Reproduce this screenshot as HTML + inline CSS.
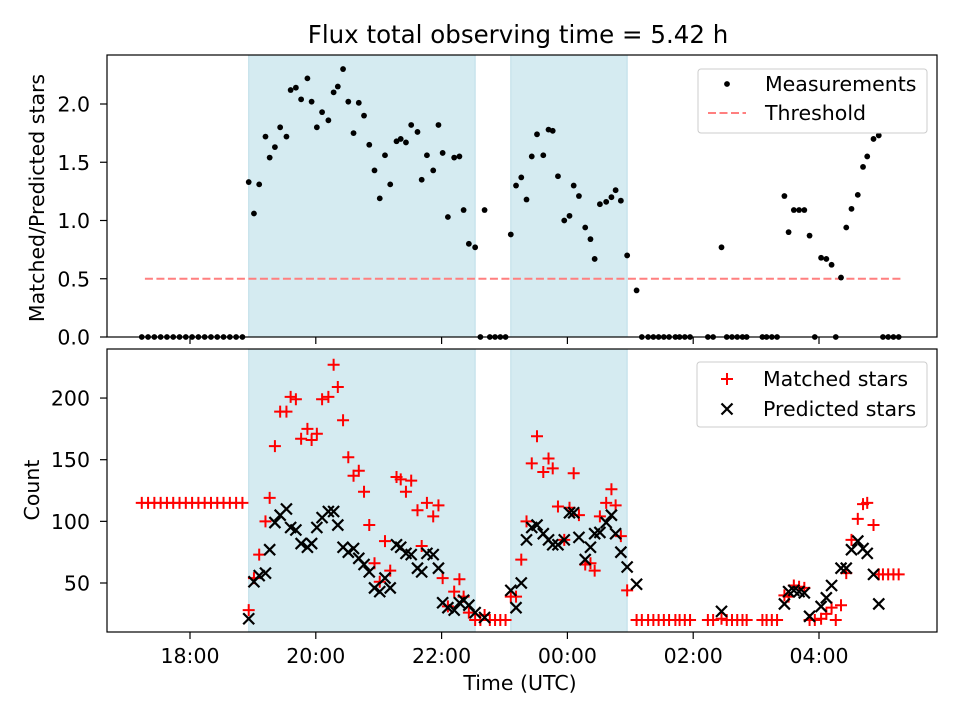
<!DOCTYPE html>
<html><head><meta charset="utf-8"><style>
body{margin:0;background:#fff;font-family:"Liberation Sans","DejaVu Sans",sans-serif;}
svg text{font-family:"DejaVu Sans","Liberation Sans",sans-serif;fill:#000;}
</style></head><body>
<svg id="chart" width="960" height="720" viewBox="0 0 960 720">
<rect width="960" height="720" fill="#fff"/>
</svg>
<script>
// minutes after 18:00 UTC
const times=[-46,-40,-34,-28,-22,-16,-10,-4,2,8,14,20,26,32,38,44,50,
56,61,66,72,76,81,86,92,96,101,106,112,116,121,126,132,137,141,146,151,156,161,166,171,176,181,186,191,197,201,206,211,217,221,226,232,237,241,246,252,257,261,266,272,
277,281,286,291,296,301,
306,311,316,321,326,331,337,342,346,351,357,362,366,371,377,382,386,391,397,402,406,411,417,426,
431,437,442,447,452,457,463,467,472,477,
494,499,507,512,517,522,527,531,546,550,555,560,
567,571,576,581,586,591,596,602,607,612,616,621,626,631,637,642,646,652,657,661,666,671,676];
const ratio=[0,0,0,0,0,0,0,0,0,0,0,0,0,0,0,0,0,
1.33,1.06,1.31,1.72,1.54,1.63,1.80,1.72,2.12,2.14,2.04,2.22,2.02,1.80,1.93,1.86,2.10,2.15,2.30,2.02,1.75,2.01,1.90,1.65,1.43,1.19,1.56,1.31,1.68,1.70,1.67,1.82,1.76,1.35,1.56,1.43,1.82,1.58,1.03,1.54,1.55,1.09,0.80,0.77,
0,1.09,0,0,0,0,
0.88,1.30,1.37,1.18,1.55,1.74,1.56,1.78,1.77,1.38,1.00,1.04,1.30,1.21,0.94,0.84,0.67,1.14,1.16,1.20,1.26,1.17,0.70,0.40,
0,0,0,0,0,0,0,0,0,0,
0,0,0.77,0,0,0,0,0,0,0,0,0,
1.21,0.90,1.09,1.09,1.09,0.87,0,0.68,0.67,0.62,0,0.51,0.94,1.10,1.22,1.46,1.55,1.70,1.73,0,0,0,0];
const matched=[115,115,115,115,115,115,115,115,115,115,115,115,115,115,115,115,115,
28,54,73,100,119,161,189,189,201,199,167,175,166,171,199,201,227,209,182,152,137,141,124,97,66,51,84,60,136,134,124,133,109,80,115,104,113,54,31,43,53,39,26,20,
20,24,20,20,20,20,
39,39,69,100,147,169,140,151,143,112,85,111,139,105,65,66,60,104,115,126,113,88,44,20,
20,20,20,20,20,20,20,20,20,20,
20,20,21,20,20,20,20,20,20,20,20,20,
40,39,48,47,46,20,20,21,25,30,20,32,58,85,102,114,115,97,57,57,57,57,57];
const predicted=[null,null,null,null,null,null,null,null,null,null,null,null,null,null,null,null,null,
21,51,56,58,77,99,105,110,95,93,82,79,82,95,103,108,108,97,79,75,78,70,65,59,46,43,54,46,81,79,74,73,62,59,74,73,62,34,30,28,34,36,32,26,
null,22,null,null,null,null,
44,30,50,85,95,97,90,85,81,81,85,107,107,87,69,79,90,91,99,105,90,75,63,49,
null,null,null,null,null,null,null,null,null,null,
null,null,27,null,null,null,null,null,null,null,null,null,
33,43,44,43,42,23,null,31,38,48,null,62,62,77,84,78,74,57,33,null,null,null,null];
const spanStart=[56,306];
const spanEnd=[272,417];
const threshold=0.5;
const thresholdRange=[-43,678];
const xTicks=[0,120,240,360,480,600];
const xTickLabels=["18:00","20:00","22:00","00:00","02:00","04:00"];
const topTicks=[0,0.5,1.0,1.5,2.0];
const topTickLabels=["0.0","0.5","1.0","1.5","2.0"];
const botTicks=[50,100,150,200];
const botTickLabels=["50","100","150","200"];

const NS="http://www.w3.org/2000/svg";
const svg=document.getElementById('chart');
const L=107,R=937,T1=55,B1=337,T2=349,B2=632;
const X=m=>190+m*(62.9/60);
const Y1=v=>337-v*116.5;
const Y2=v=>583-(v-50)*1.233;
const FS=20.5;
function mk(tag,attrs,parent){const e=document.createElementNS(NS,tag);for(const k in attrs)e.setAttribute(k,attrs[k]);(parent||svg).appendChild(e);return e;}

function panel(top,bot,name){
  const g=mk('g',{});
  
  
  for(let i=0;i<spanStart.length;i++){
    const r=mk('rect',{x:X(spanStart[i]),y:top,width:X(spanEnd[i])-X(spanStart[i]),height:bot-top,fill:'#d5ebf1',stroke:'#bcdde8','stroke-width':1},g);
    
    
  }
  return g;
}
function frame(top,bot,name){
  const f=mk('rect',{x:L,y:top,width:R-L,height:bot-top,fill:'none',stroke:'#000','stroke-width':1.2});
  
  
  xTicks.forEach(t=>mk('line',{x1:X(t),x2:X(t),y1:bot,y2:bot+7,stroke:'#000','stroke-width':1.2}));
}

// top panel
const gTop=panel(T1,B1,'ratio-panel');
const th=mk('line',{x1:X(thresholdRange[0]),x2:X(thresholdRange[1]),y1:Y1(threshold),y2:Y1(threshold),stroke:'#ff7f7f','stroke-width':2,'stroke-dasharray':'8,3.5'},gTop);


times.forEach((t,i)=>{
  const c=mk('circle',{cx:X(t),cy:Y1(ratio[i]),r:2.9,fill:'#000'},gTop);
  
  
});
frame(T1,B1,'top-axes-frame');
topTicks.forEach((v,i)=>{
  mk('line',{x1:L-7,x2:L,y1:Y1(v),y2:Y1(v),stroke:'#000','stroke-width':1.2});
  const tx=mk('text',{x:90,y:Y1(v)+7.5,'text-anchor':'end','font-size':FS});
  tx.textContent=topTickLabels[i];
  
  
});

// bottom panel
const gBot=panel(T2,B2,'count-panel');
times.forEach((t,i)=>{
  const x=X(t),y=Y2(matched[i]);
  const p=mk('path',{d:`M${x-6},${y}H${x+6}M${x},${y-6}V${y+6}`,stroke:'#f00','stroke-width':2,fill:'none'},gBot);
  
  
});
times.forEach((t,i)=>{
  if(predicted[i]===null)return;
  const x=X(t),y=Y2(predicted[i]);
  const p=mk('path',{d:`M${x-5.5},${y-5.5}L${x+5.5},${y+5.5}M${x-5.5},${y+5.5}L${x+5.5},${y-5.5}`,stroke:'#000','stroke-width':2.2,fill:'none'},gBot);
  
  
});
frame(T2,B2,'bottom-axes-frame');
botTicks.forEach((v,i)=>{
  mk('line',{x1:L-7,x2:L,y1:Y2(v),y2:Y2(v),stroke:'#000','stroke-width':1.2});
  const tx=mk('text',{x:90,y:Y2(v)+7.5,'text-anchor':'end','font-size':FS});
  tx.textContent=botTickLabels[i];
  
  
});
xTicks.forEach((t,i)=>{
  const tx=mk('text',{x:X(t),y:663,'text-anchor':'middle','font-size':FS});
  tx.textContent=xTickLabels[i];
  
  
});
</script>
<svg width="960" height="720" style="position:absolute;left:0;top:0">
<text x="518" y="43" text-anchor="middle" font-size="24.5">Flux total observing time = 5.42 h</text>
<text x="520" y="690" text-anchor="middle" font-size="20.5">Time (UTC)</text>
<text transform="translate(44,198) rotate(-90)" text-anchor="middle" font-size="20.5">Matched/Predicted stars</text>
<text transform="translate(39,490) rotate(-90)" text-anchor="middle" font-size="20.5">Count</text>
<g>
<rect x="698" y="69" width="229" height="64" rx="3" fill="#fff" fill-opacity="0.8" stroke="#ccc"/>
<circle cx="727" cy="84" r="2.9" fill="#000"/>
<text x="765" y="91" font-size="20.5">Measurements</text>
<line x1="708" x2="746" y1="113" y2="113" stroke="#ff7f7f" stroke-width="2" stroke-dasharray="8,3.5"/>
<text x="765" y="120" font-size="20.5">Threshold</text>
</g>
<g>
<rect x="697" y="362" width="230" height="65" rx="3" fill="#fff" fill-opacity="0.8" stroke="#ccc"/>
<path d="M721,379H733M727,373V385" stroke="#f00" stroke-width="2"/>
<text x="763" y="386" font-size="20.5">Matched stars</text>
<path d="M721.5,403.5L732.5,414.5M721.5,414.5L732.5,403.5" stroke="#000" stroke-width="2.2"/>
<text x="763" y="416" font-size="20.5">Predicted stars</text>
</g>
</svg>
</body></html>
